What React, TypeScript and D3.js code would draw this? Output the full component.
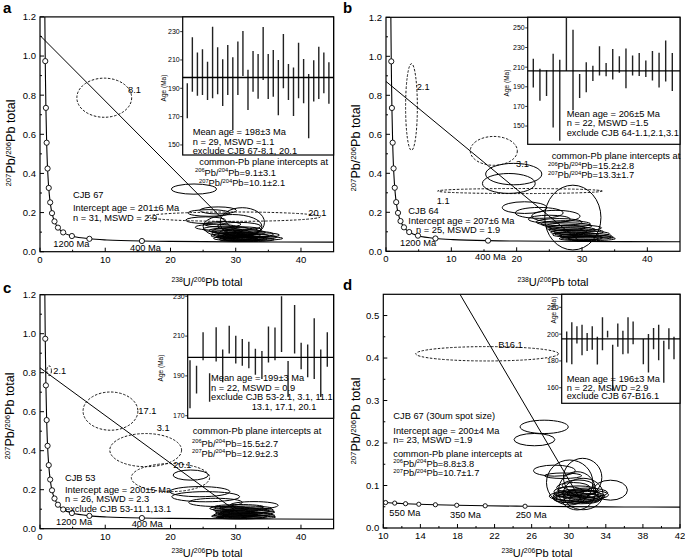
import React from 'react';
import * as d3 from 'd3';

const FONT = '"Liberation Sans", Arial, Helvetica, sans-serif';

// ---------------- Concordia (Tera-Wasserburg) ----------------
const concCurveX = [45, 30, 20, 15.62, 10.25, 7.57, 4.89, 3.55, 2.75, 2.22, 1.84, 1.56, 1.34, 1.16, 1.02, 0.905, 0.806, 0.742];
const concCurveY = [0.0488, 0.0504, 0.0527, 0.0547, 0.0599, 0.0658, 0.0801, 0.0987, 0.123, 0.155, 0.197, 0.252, 0.326, 0.425, 0.557, 0.735, 0.974, 1.207];
const concMarkX = [15.62, 7.57, 4.89, 3.55, 2.75, 2.22, 1.84, 1.56, 1.34, 1.16, 1.02, 0.905, 0.806];
const concMarkY = [0.0547, 0.0658, 0.0801, 0.0987, 0.123, 0.155, 0.197, 0.252, 0.326, 0.425, 0.557, 0.735, 0.974];

const concDCurveX = [10.0, 10.25, 11.23, 12.4, 13.83, 15.62, 17.92, 20.99, 25.29, 30, 36, 42];
const concDCurveY = [0.0602, 0.0599, 0.0586, 0.0572, 0.0559, 0.0547, 0.0535, 0.0523, 0.0512, 0.0504, 0.0495, 0.0491];
const concDMarkX = [10.25, 11.23, 12.4, 13.83, 15.62, 17.92, 20.99, 25.29];
const concDMarkY = [0.0599, 0.0586, 0.0572, 0.0559, 0.0547, 0.0535, 0.0523, 0.0512];

// ---------------- Regression lines (x0,y0,x1,y1) ----------------
const lineA = [0, 1.105, 31.5, 0.05];
const lineB = [0, 0.871, 29.5, 0.055];
const lineC = [0, 0.825, 31.7, 0.05];
const lineD = [18.27, 0.55, 31.5, 0.058];

// ---------------- Error ellipses [cx, cy, rx, ry, excluded] ----------------
type Ell = [number, number, number, number, boolean?];
const ellA: Ell[] = [
  [9.85, 0.787, 4.2, 0.1, true],
  [29.7, 0.179, 13.3, 0.024, true],
  [23.6, 0.32, 3.45, 0.026],
  [27.3, 0.211, 2.8, 0.018],
  [25.9, 0.198, 3.2, 0.017],
  [25.4, 0.161, 3.06, 0.017],
  [31.0, 0.15, 3.4, 0.075],
  [29.5, 0.13, 4.5, 0.06],
  [28.0, 0.14, 2.8, 0.014], [30.5, 0.13, 3.3, 0.02], [27.0, 0.125, 3.2, 0.015], [28.5, 0.115, 3.5, 0.016],
  [30.0, 0.105, 3.6, 0.018], [31.0, 0.098, 3.5, 0.015], [29.5, 0.095, 3.2, 0.014], [32.0, 0.09, 3.8, 0.016],
  [30.5, 0.085, 3.3, 0.013], [31.5, 0.08, 3.6, 0.014], [29.0, 0.082, 2.8, 0.012], [32.5, 0.075, 3.8, 0.013],
  [30.0, 0.075, 3.0, 0.012], [31.0, 0.07, 3.4, 0.012], [33.0, 0.068, 4.2, 0.01], [29.5, 0.068, 2.9, 0.011],
  [31.5, 0.065, 3.3, 0.01], [32.0, 0.062, 3.9, 0.01], [30.5, 0.062, 3.0, 0.01], [28.5, 0.108, 2.6, 0.013],
  [33.5, 0.085, 3.2, 0.012], [31.0, 0.112, 3.0, 0.015],
];
const ellB: Ell[] = [
  [3.9, 0.74, 0.9, 0.222, true],
  [16.5, 0.515, 3.6, 0.074, true],
  [20.5, 0.309, 12.6, 0.013, true],
  [19.55, 0.396, 4.3, 0.055], [18.8, 0.348, 4.04, 0.051],
  [21.2, 0.224, 3.4, 0.03], [23.45, 0.197, 3.66, 0.028], [26, 0.18, 3.7, 0.03], [28.6, 0.173, 4.3, 0.166],
  [25.0, 0.165, 3.2, 0.02], [26.5, 0.15, 3.5, 0.018], [27.5, 0.14, 3.8, 0.017], [28.0, 0.13, 3.5, 0.016],
  [29.0, 0.12, 4.0, 0.015], [28.5, 0.11, 3.6, 0.015], [29.5, 0.1, 3.8, 0.014], [30.0, 0.09, 4.2, 0.014],
  [29.0, 0.085, 3.5, 0.013], [30.5, 0.08, 4.0, 0.012], [31.0, 0.072, 3.8, 0.011], [30.0, 0.07, 3.2, 0.012],
  [29.5, 0.065, 3.0, 0.01], [31.5, 0.065, 3.6, 0.01], [27.5, 0.12, 3.0, 0.014], [28.0, 0.098, 2.8, 0.012],
];
const ellC: Ell[] = [
  [1.4, 0.81, 0.35, 0.025, true],
  [10.8, 0.603, 4.2, 0.098, true],
  [16.2, 0.403, 5.5, 0.085, true],
  [20.0, 0.262, 6.0, 0.072, true],
  [23.1, 0.275, 2.7, 0.026], [24.5, 0.19, 4.6, 0.026], [25.4, 0.164, 5.2, 0.026], [26.9, 0.135, 4.1, 0.021],
  [32.8, 0.12, 3.7, 0.019],
  [30.5, 0.112, 3.8, 0.012], [31.5, 0.105, 4.0, 0.011], [30.0, 0.098, 3.5, 0.012], [31.0, 0.09, 4.2, 0.011],
  [32.0, 0.085, 4.0, 0.01], [30.5, 0.08, 3.6, 0.01], [31.5, 0.075, 4.2, 0.01], [30.0, 0.07, 3.4, 0.01],
  [32.0, 0.068, 4.0, 0.009], [31.0, 0.062, 3.8, 0.009], [29.5, 0.064, 3.2, 0.008], [32.5, 0.06, 3.6, 0.008],
  [30.5, 0.057, 3.5, 0.007], [32.3, 0.095, 3.5, 0.012], [29.0, 0.104, 3.0, 0.011],
];
const ellD: Ell[] = [
  [21.2, 0.41, 7.7, 0.0169, true],
  [27.35, 0.238, 2.6, 0.0157], [26.3, 0.208, 2.2, 0.0145], [28.45, 0.135, 2.25, 0.013], [29.4, 0.123, 2.0, 0.0065],
  [31.5, 0.119, 2.07, 0.045], [30.9, 0.0875, 2.0, 0.045], [34.5, 0.089, 1.83, 0.0235],
  [30.1, 0.107, 2.5, 0.053], [31.55, 0.08, 2.15, 0.037],
  [30.5, 0.095, 1.8, 0.012], [31.0, 0.088, 2.2, 0.011], [30.8, 0.08, 2.4, 0.01], [31.5, 0.078, 2.0, 0.012],
  [30.2, 0.075, 1.9, 0.01], [31.2, 0.072, 2.6, 0.01], [32.0, 0.083, 2.2, 0.011], [30.6, 0.068, 2.2, 0.009],
  [31.8, 0.07, 1.8, 0.01], [30.0, 0.085, 1.6, 0.012], [32.5, 0.078, 1.8, 0.01], [31.3, 0.065, 2.0, 0.008],
  [29.8, 0.07, 1.5, 0.01], [31.0, 0.1, 1.7, 0.013], [30.9, 0.075, 3.0, 0.012],
];

// ---------------- Inset weighted-mean age bars (Ma) ----------------
const insetAHigh = [193.5, 226, 215.2, 217.5, 208.8, 233.5, 219, 210.5, 220.6, 212, 223, 230.5, 203, 216.4, 214.2, 233.3, 214.2, 217, 210, 228.4, 207.2, 204.6, 222.2, 210.7, 200.1, 209.8, 219.4, 215.2, 208.4];
const insetALow = [168.8, 187.6, 184.8, 185.3, 181.8, 183, 185.8, 177.5, 185.3, 160.6, 185.3, 198.7, 174.7, 187.6, 182.7, 195.9, 182.5, 184, 171, 190, 181.8, 170.5, 183, 179.4, 154.7, 180.6, 182.5, 186.5, 179];
const insetBHigh = [218.6, 208.4, 206.8, 223.6, 217.6, 261, 248, 203, 214.9, 211.5, 231.4, 214.2, 228.4, 221, 229, 222, 224.3, 216.9, 226.4, 224.7, 237.2, 224.3];
const insetBLow = [189.2, 175.7, 180.7, 148.6, 135.1, 206, 166.2, 178.7, 184.5, 196, 201.4, 200.7, 197.3, 204.4, 188.5, 201.4, 201, 200, 196.3, 189.2, 195.3, 185.8];
const insetCHigh = [197.9, 195.1, 211.9, 191.3, 214.5, 203.3, 215.2, 210.2, 208.6, 207.1, 203.6, 202.5, 214.8, 214.3, 230, 197.5, 225.6, 206.6, 205.8, 219, 203.3, 211.9];
const insetCLow = [173.7, 181.1, 197.9, 177, 197.2, 186.8, 201.2, 196.2, 195.1, 193.8, 190.6, 188.5, 196.7, 197.9, 202, 179.4, 201.3, 193.4, 189.3, 188.5, 179.4, 194.6];
const insetDHigh = [202, 208.8, 205.8, 207, 200.8, 205.8, 198, 212.5, 202.5, 192, 208, 202.5, 212.5, 209.5, null, 196.3, 200, 204.5, 207, 195, 204.3, 198];
const insetDLow = [178.8, 177.5, 193, 184.3, 187.5, 188.3, 177.3, 188, 197.5, 157.5, 190.5, 185, 185.5, 192.5, null, 177.5, 171.3, 188.8, 180.5, 163.8, 188.8, 181.3];
const meanAges = [197.6, 206.3, 199.3, 196.5];

// ---------------- Tick values ----------------
const xTicksABC = [0, 10, 20, 30, 40];
const xMinorABC = [5, 15, 25, 35];
const yTicksABC = [0, 0.2, 0.4, 0.6, 0.8, 1.0, 1.2];
const yMinorABC = [0.1, 0.3, 0.5, 0.7, 0.9, 1.1];
const xTicksD = [10, 14, 18, 22, 26, 30, 34, 38, 42];
const xMinorD = [12, 16, 20, 24, 28, 32, 36, 40];
const yTicksD = [0, 0.1, 0.2, 0.3, 0.4, 0.5];
const yMinorD = [0.05, 0.15, 0.25, 0.35, 0.45];
const insetTicksA = [150, 170, 190, 210, 230];
const insetTicksB = [150, 170, 190, 210, 230, 250];
const insetTicksC = [170, 190, 210, 230];
const insetTicksD = [160, 180, 200, 220];

function Rich({ x, y, text, size = 9.3, anchor = 'start', rotate = 0 }: any) {
  const parts = text.split(/(\^\d+)/).filter((p: string) => p.length);
  let prevSup = false;
  const sh = size * 0.36;
  return (
    <text x={x} y={y} fontSize={size} textAnchor={anchor} fontFamily={FONT} fill="#000"
      transform={rotate ? `rotate(${rotate},${x},${y})` : undefined}>
      {parts.map((p: string, i: number) => {
        if (p.startsWith('^')) {
          const el = <tspan key={i} fontSize={size * 0.62} dy={prevSup ? 0 : -sh}>{p.slice(1)}</tspan>;
          prevSup = true;
          return el;
        }
        const el = <tspan key={i} dy={prevSup ? sh : 0}>{p}</tspan>;
        prevSup = false;
        return el;
      })}
    </text>
  );
}

function T({ x, y, children, size = 9.3, anchor = 'start' }: any) {
  return <text x={x} y={y} fontSize={size} textAnchor={anchor} fontFamily={FONT} fill="#000">{children}</text>;
}

function Panel(p: any) {
  const x = d3.scaleLinear().domain(p.xDomain).range(p.xRange);
  const y = d3.scaleLinear().domain(p.yDomain).range(p.yRange);
  const [x0, x1] = p.xRange;
  const [yb, yt] = p.yRange;
  const curve = d3.line<number>().x((_, i) => x(p.curveX[i])).y((_, i) => y(p.curveY[i])).curve(d3.curveCatmullRom.alpha(0.5));
  const ins = p.inset;
  const iy = d3.scaleLinear().domain(ins.domain).range([ins.bottom, ins.top]);
  const n = ins.high.length;
  const ix = d3.scaleLinear().domain([0, n - 1]).range([ins.left + ins.padL, ins.right - ins.padR]);
  const clipId = 'clip-' + p.id;
  const iclip = 'iclip-' + p.id;
  return (
    <g>
      <defs>
        <clipPath id={clipId}><rect x={x0} y={yt} width={x1 - x0} height={yb - yt} /></clipPath>
        <clipPath id={iclip}><rect x={ins.left} y={ins.top} width={ins.right - ins.left} height={ins.bottom - ins.top} /></clipPath>
      </defs>
      <g clipPath={`url(#${clipId})`}>
        {p.ellipses.map((e: Ell, i: number) => (
          <ellipse key={i} cx={x(e[0])} cy={y(e[1])} rx={x(e[0] + e[2]) - x(e[0])} ry={y(e[1]) - y(e[1] + e[3])}
            fill="none" stroke="#000" strokeWidth={e[4] ? 0.9 : 1} strokeDasharray={e[4] ? '2.5,1.6' : undefined} />
        ))}
        <line x1={x(p.line[0])} y1={y(p.line[1])} x2={x(p.line[2])} y2={y(p.line[3])} stroke="#000" strokeWidth={1} />
        <path d={curve(p.curveX) || ''} fill="none" stroke="#000" strokeWidth={1.1} />
        {p.markX.map((mx: number, i: number) => (
          <circle key={i} cx={x(mx)} cy={y(p.markY[i])} r={p.markR} fill="#fff" stroke="#000" strokeWidth={0.9} />
        ))}
      </g>
      {/* frame */}
      <rect x={x0} y={yt} width={x1 - x0} height={yb - yt} fill="none" stroke="#000" strokeWidth={1.2} />
      {p.xTicks.map((t: number) => (
        <g key={'xt' + t}>
          <line x1={x(t)} x2={x(t)} y1={yb} y2={yb - 4} stroke="#000" />
          <text x={x(t)} y={yb + 11} fontSize={9.5} textAnchor="middle" fontFamily={FONT}>{t}</text>
        </g>
      ))}
      {p.xMinor.map((t: number) => <line key={'xm' + t} x1={x(t)} x2={x(t)} y1={yb} y2={yb - 2} stroke="#000" />)}
      {p.yTicks.map((t: number) => (
        <g key={'yt' + t}>
          <line x1={x0} x2={x0 + 4} y1={y(t)} y2={y(t)} stroke="#000" />
          <text x={x0 - 4} y={y(t) + 3.4} fontSize={9.5} textAnchor="end" fontFamily={FONT}>{t.toFixed(1)}</text>
        </g>
      ))}
      {p.yMinor.map((t: number) => <line key={'ym' + t} x1={x0} x2={x0 + 2} y1={y(t)} y2={y(t)} stroke="#000" />)}
      {/* inset */}
      <rect x={ins.left} y={ins.top} width={ins.right - ins.left} height={ins.bottom - ins.top} fill="#fff" stroke="#000" strokeWidth={1.2} />
      <g clipPath={`url(#${iclip})`}>
        {ins.high.map((h: number | null, i: number) => h == null ? null : (
          <line key={i} x1={ix(i)} x2={ix(i)} y1={iy(h)} y2={iy(ins.low[i])} stroke="#222" strokeWidth={1.4} />
        ))}
        <line x1={ins.left} x2={ins.right} y1={iy(ins.mean)} y2={iy(ins.mean)} stroke="#000" strokeWidth={1.3} />
      </g>
      {ins.ticks.map((t: number) => (
        <g key={'it' + t}>
          <line x1={ins.left} x2={ins.left - 2.5} y1={iy(t)} y2={iy(t)} stroke="#000" strokeWidth={0.8} />
          <text x={ins.left - 3} y={iy(t) + 2.4} fontSize={7} textAnchor="end" fontFamily={FONT}>{t}</text>
        </g>
      ))}
      <text x={ins.labelX} y={ins.labelY} fontSize={6.5} textAnchor="middle" fontFamily={FONT}
        transform={`rotate(-90,${ins.labelX},${ins.labelY})`}>Age (Ma)</text>
      {/* axis titles */}
      <Rich x={p.xLabel[0]} y={p.xLabel[1]} text="^238U/^206Pb total" size={11} anchor="middle" />
      <Rich x={p.yLabel[0]} y={p.yLabel[1]} text="^207Pb/^206Pb total" size={12.5} anchor="middle" rotate={-90} />
      <text x={p.letter[0]} y={p.letter[1]} fontSize={15} fontWeight="bold" fontFamily={FONT}>{p.id}</text>
      {p.children}
    </g>
  );
}

export default function App() {
  return (
    <svg width={685} height={559} style={{ position: 'absolute', left: 0, top: 0, background: '#fff' }}>
      <rect width={685} height={559} fill="#fff" />
      <Panel id="a" xDomain={[0, 45]} xRange={[40, 333.6]} yDomain={[0, 1.2]} yRange={[251.7, 16.9]}
        xTicks={xTicksABC} xMinor={xMinorABC} yTicks={yTicksABC} yMinor={yMinorABC}
        curveX={concCurveX} curveY={concCurveY} markX={concMarkX} markY={concMarkY} markR={2.6}
        line={lineA} ellipses={ellA} xLabel={[207, 286]} yLabel={[15, 143]} letter={[3, 13]}
        inset={{ left: 182.7, top: 16.9, right: 333.6, bottom: 155, domain: [142.9, 240.4], ticks: insetTicksA,
          high: insetAHigh, low: insetALow, mean: meanAges[0], padL: 4.6, padR: 4.7, labelX: 166, labelY: 88 }}>
        <T x={128} y={92.5}>8.1</T>
        <T x={308.3} y={216}>20.1</T>
        <T x={73} y={198}>CJB 67</T>
        <T x={73} y={210.5}>Intercept age = 201±6  Ma</T>
        <T x={73} y={220.5}>n = 31, MSWD = 2.9</T>
        <T x={53.3} y={246.5}>1200 Ma</T>
        <T x={130} y={250.5}>400 Ma</T>
        <T x={192.7} y={135}>Mean age = 198±3  Ma</T>
        <T x={192.7} y={145}>n = 29, MSWD =1.1</T>
        <T x={192.7} y={154}>exclude CJB 67-8.1, 20.1</T>
        <T x={199.3} y={165}>common-Pb plane intercepts at</T>
        <Rich x={195} y={175.5} text="^206Pb/^204Pb=9.1±3.1" />
        <Rich x={199} y={186} text="^207Pb/^204Pb=10.1±2.1" />
      </Panel>
      <Panel id="b" xDomain={[0, 45]} xRange={[386, 680]} yDomain={[0, 1.2]} yRange={[251.3, 17.3]}
        xTicks={xTicksABC} xMinor={xMinorABC} yTicks={yTicksABC} yMinor={yMinorABC}
        curveX={concCurveX} curveY={concCurveY} markX={concMarkX} markY={concMarkY} markR={2.6}
        line={lineB} ellipses={ellB} xLabel={[553, 286]} yLabel={[360, 148]} letter={[343, 13]}
        inset={{ left: 527.7, top: 17.3, right: 680, bottom: 144.3, domain: [131.4, 260.8], ticks: insetTicksB,
          high: insetBHigh, low: insetBLow, mean: meanAges[1], padL: 5.6, padR: 7.7, labelX: 509, labelY: 83 }}>
        <T x={416.7} y={89.5}>2.1</T>
        <T x={516} y={166.5}>3.1</T>
        <T x={436.7} y={203.5}>1.1</T>
        <T x={408.3} y={214}>CJB 64</T>
        <T x={408.3} y={224}>Intercept age =  207±6  Ma</T>
        <T x={416} y={233.3}>n = 25, MSWD = 1.9</T>
        <T x={400} y={246}>1200 Ma</T>
        <T x={475} y={260}>400 Ma</T>
        <T x={566.7} y={116.6}>Mean age = 206±5  Ma</T>
        <T x={566.7} y={126}>n = 22, MSWD =1.5</T>
        <T x={566.7} y={135.6}>exclude CJB 64-1.1,2.1,3.1</T>
        <T x={551.7} y={159.3}>common-Pb plane intercepts at</T>
        <Rich x={548} y={169} text="^206Pb/^204Pb=15.2±2.8" />
        <Rich x={548} y={178.3} text="^207Pb/^204Pb=13.3±1.7" />
      </Panel>
      <Panel id="c" xDomain={[0, 45]} xRange={[40, 333.6]} yDomain={[0, 1.2]} yRange={[528.7, 294.7]}
        xTicks={xTicksABC} xMinor={xMinorABC} yTicks={yTicksABC} yMinor={yMinorABC}
        curveX={concCurveX} curveY={concCurveY} markX={concMarkX} markY={concMarkY} markR={2.6}
        line={lineC} ellipses={ellC} xLabel={[207, 557]} yLabel={[14, 416]} letter={[3, 293]}
        inset={{ left: 187.7, top: 294.7, right: 333.6, bottom: 418.3, domain: [168.7, 230.8], ticks: insetTicksC,
          high: insetCHigh, low: insetCLow, mean: meanAges[2], padL: 2.3, padR: 6.3, labelX: 163, labelY: 368 }}>
        <T x={53.3} y={374.3}>2.1</T>
        <T x={138.3} y={414.3}>17.1</T>
        <T x={156.7} y={430.6}>3.1</T>
        <T x={173.3} y={467.6}>20.1</T>
        <T x={65} y={480.6}>CJB 53</T>
        <T x={65} y={492.6}>Intercept age = 200±5  Ma</T>
        <T x={65} y={502.3}>n = 26, MSWD = 2.3</T>
        <T x={65} y={511.6}>exclude CJB 53-11.1,13.1</T>
        <T x={56} y={525}>1200 Ma</T>
        <T x={131.7} y={526.6}>400 Ma</T>
        <T x={211} y={381}>Mean age = 199±3  Ma</T>
        <T x={211} y={391.3}>n = 22, MSWD = 0.9</T>
        <T x={211} y={400.3}>exclude CJB 53-2.1, 3.1, 11.1</T>
        <T x={251.7} y={410}>13.1, 17.1, 20.1</T>
        <T x={192.7} y={434.3}>common-Pb plane intercepts at</T>
        <Rich x={192} y={446.6} text="^206Pb/^204Pb=15.5±2.7" />
        <Rich x={192} y={456.6} text="^207Pb/^204Pb=12.9±2.3" />
      </Panel>
      <Panel id="d" xDomain={[10, 42]} xRange={[383.3, 680]} yDomain={[0, 0.55]} yRange={[528, 294.3]}
        xTicks={xTicksD} xMinor={xMinorD} yTicks={yTicksD} yMinor={yMinorD}
        curveX={concDCurveX} curveY={concDCurveY} markX={concDMarkX} markY={concDMarkY} markR={2.1}
        line={lineD} ellipses={ellD} xLabel={[537, 557]} yLabel={[360, 421]} letter={[343, 290]}
        inset={{ left: 561.7, top: 294.3, right: 680, bottom: 403.3, domain: [148.4, 229.7], ticks: insetTicksD,
          high: insetDHigh, low: insetDLow, mean: meanAges[3], padL: 5, padR: 6, labelX: 556, labelY: 310 }}>
        <T x={498.3} y={347.6}>B16.1</T>
        <T x={393.3} y={419}>CJB 67 (30um spot size)</T>
        <T x={393.3} y={434}>Intercept age =  200±4  Ma</T>
        <T x={393.3} y={442.6}>n= 23,  MSWD =1.9</T>
        <T x={393.3} y={456.6}>common-Pb plane intercepts at</T>
        <Rich x={393.3} y={466.6} text="^206Pb/^204Pb=8.8±3.8" />
        <Rich x={393.3} y={476} text="^207Pb/^204Pb=10.7±1.7" />
        <T x={389.3} y={516}>550 Ma</T>
        <T x={450} y={518.3}>350 Ma</T>
        <T x={515.7} y={518.3}>250 Ma</T>
        <T x={566.7} y={381.6}>Mean age = 196±3  Ma</T>
        <T x={566.7} y={390.6}>n = 22, MSWD =2.9</T>
        <T x={566.7} y={399.3}>exclude CJB 67-B16.1</T>
      </Panel>
    </svg>
  );
}
